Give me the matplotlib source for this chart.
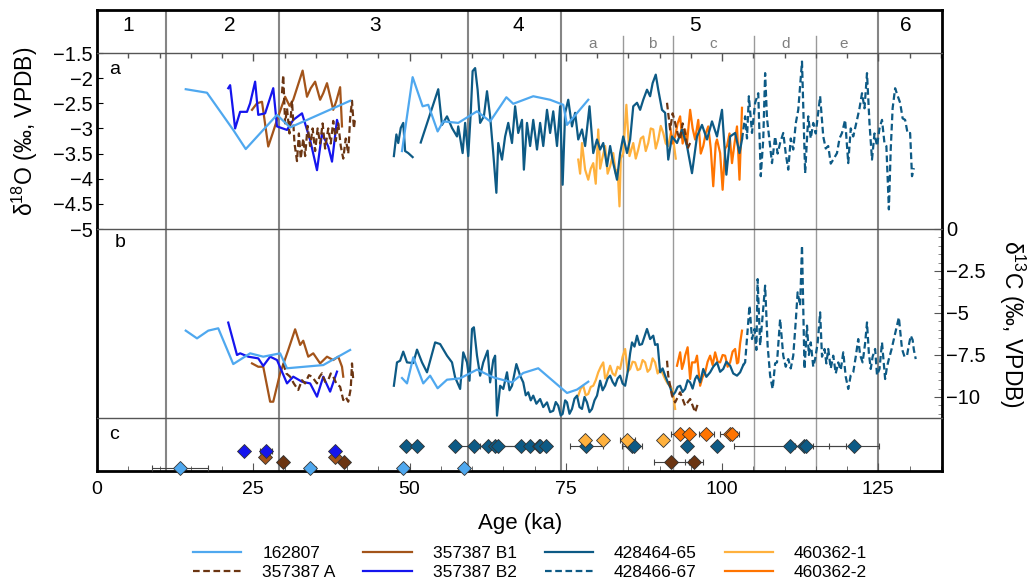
import numpy as np
import matplotlib.pyplot as plt
from matplotlib.lines import Line2D
from matplotlib.ticker import MultipleLocator

plt.rcParams['font.family'] = ['Liberation Sans', 'DejaVu Sans']
plt.rcParams['mathtext.fontset'] = 'custom'
plt.rcParams['mathtext.rm'] = 'Liberation Sans'
plt.rcParams['axes.unicode_minus'] = True

# ---- marine isotope stages ----
mis_bounds = [11.0, 29.1, 59.3, 74.3, 124.9]
sub_bounds = [84.2, 92.1, 105.1, 115.0]
mis_labels = ['1', '2', '3', '4', '5', '6']
mis_label_age = [5.0, 21.3, 44.5, 67.4, 95.7, 129.4]
sub_labels = ['a', 'b', 'c', 'd', 'e']
sub_label_age = [79.3, 88.8, 98.6, 110.1, 119.4]

# ---- series (age ka, value) ; None = break in record ----
# 162807
lb_o = [(14.2, -2.22), (17.6, -2.29), (21.8, -3.03), (23.8, -3.41), (28.8, -2.73), (30.9, -2.98),
        (40.5, -2.45), (44.0, None), (48.8, -3.45), (50.5, -1.98), (52.1, -2.56), (53.0, -2.53),
        (54.5, -3.06), (55.4, -2.86), (57.8, -2.89), (60.8, -2.66), (62.9, -2.86), (65.5, -2.38),
        (66.6, -2.51), (69.8, -2.36), (72.5, -2.43), (74.6, -2.53), (75.2, -2.93), (78.6, -2.43)]
lb_c = [(14.2, -6.05), (16.0, -6.51), (17.8, -6.05), (19.4, -5.91), (21.8, -8.04), (24.5, -7.40),
        (26.6, -7.60), (29.3, -7.40), (30.4, -8.29), (36.2, -8.10), (40.5, -7.20), (44.0, None),
        (48.8, -8.87), (49.6, -9.19), (50.6, -7.64), (52.2, -9.19), (53.3, -8.73), (54.5, -9.48),
        (56.0, -8.97), (58.1, -8.89), (60.8, -8.37), (63.4, -8.83), (66.4, -9.13), (68.2, -8.57),
        (70.6, -8.29), (75.2, -9.76), (76.8, -9.56), (78.6, -9.09)]

# 357387 A
a_o = [(29.6, -2.3), (29.8, -1.94), (30.1, -2.9), (30.4, -2.6), (30.8, -3.1), (31.2, -2.45), (31.6, -3.3),
       (32.0, -3.65), (32.3, -3.1), (32.6, -3.6), (33.0, -3.2), (33.3, -3.55), (33.7, -2.95),
       (34.1, -3.35), (34.5, -3.0), (34.9, -3.45), (35.3, -3.0), (35.7, -3.3), (36.1, -2.9),
       (36.5, -3.4), (37.0, -3.0), (37.4, -3.3), (37.8, -2.85), (38.2, -3.25), (38.6, -2.9),
       (39.0, -3.35), (39.4, -3.6), (39.8, -3.2), (40.2, -3.5), (40.5, -2.8), (40.8, -2.45),
       (41.1, -3.0), (41.3, -2.8), (60.0, None), (91.2, -2.49), (91.7, -3.02), (92.1, -2.7),
       (92.5, -2.89), (92.9, -3.1), (93.3, -3.22), (93.7, -2.9), (94.1, -3.09), (94.5, -3.4), (94.9, -3.29)]
a_c = [(29.8, -8.0), (30.3, -8.6), (30.9, -8.79), (31.5, -9.2), (32.2, -9.58), (32.8, -9.0),
       (33.3, -9.19), (33.9, -8.7), (34.4, -8.79), (35.2, -9.19), (35.6, -8.8), (36.0, -8.59),
       (36.5, -9.1), (37.0, -8.99), (37.4, -8.6), (37.8, -8.79), (38.3, -9.2), (38.9, -9.39),
       (39.4, -10.18), (39.8, -10.0), (40.2, -10.28), (40.6, -9.5), (40.8, -8.0), (41.0, -8.99),
       (60.0, None), (91.2, -7.84), (91.4, -8.73), (92.0, -9.92), (92.5, -10.32), (93.3, -9.72),
       (94.1, -10.52), (94.9, -10.12), (95.7, -10.91), (96.2, -10.32)]

# 357387 B1
b1_o = [(24.8, -2.63), (25.6, -2.5), (26.4, -2.47), (27.4, -3.36), (28.1, -3.1), (28.8, -2.83),
        (30.1, -2.37), (30.8, -2.55), (31.4, -2.43), (32.9, -1.85), (33.6, -2.37), (34.2, -2.2),
        (34.9, -2.07), (35.7, -2.43), (36.2, -2.3), (36.8, -2.10), (37.8, -2.63), (38.3, -2.45),
        (38.9, -2.18), (39.2, -2.96)]
b1_c = [(24.8, -8.00), (25.8, -8.20), (26.6, -8.20), (27.7, -10.28), (28.2, -10.28), (29.3, -8.59),
        (30.6, -7.20), (31.7, -5.97), (32.5, -6.90), (33.0, -6.65), (33.8, -7.60), (34.6, -7.40),
        (35.7, -8.00), (36.8, -7.60), (37.8, -7.80), (38.6, -7.60), (39.2, -8.20), (39.4, -8.79)]

# 357387 B2
b2_o = [(21.0, -2.20), (21.3, -2.14), (22.1, -3.00), (22.9, -2.67), (24.0, -2.67), (24.5, -2.50),
        (25.3, -2.07), (25.8, -2.73), (26.9, -2.70), (28.2, -2.20), (28.8, -2.96), (30.4, -3.03),
        (31.4, -2.83), (32.8, -2.70), (34.1, -3.23), (35.2, -3.83), (36.0, -3.10), (37.0, -3.36),
        (37.6, -3.66), (38.4, -2.83), (38.6, -2.93)]
b2_c = [(21.0, -5.57), (22.4, -7.50), (22.9, -7.40), (24.2, -7.60), (25.8, -7.70), (26.6, -8.15),
        (27.7, -7.60), (28.8, -7.80), (30.4, -9.19), (31.4, -8.79), (32.8, -9.09), (34.1, -9.19),
        (35.2, -9.98), (36.2, -8.79), (37.3, -9.68), (38.4, -8.49)]

# 428464-65
d1_o = [(47.5, -3.55), (47.9, -3.12), (48.2, -3.29), (48.6, -2.99), (49.0, -2.89), (49.3, -3.45),
        (49.8, -3.49), (50.5, -3.57), (51.0, None), (51.8, -3.28), (54.6, -2.22), (55.2, -2.93),
        (56.0, -2.76), (56.8, -2.99), (57.6, -3.16), (57.8, -2.96), (58.5, -3.49), (58.9, -2.89),
        (59.4, -3.55), (59.8, -2.69), (60.1, -1.86), (60.5, -1.80), (60.9, -2.23), (61.3, -2.89),
        (61.9, -2.76), (62.4, -2.26), (62.9, -2.76), (63.4, -3.49), (63.9, -4.28), (64.2, -3.29),
        (64.8, -3.62), (65.3, -3.16), (65.8, -2.89), (66.4, -3.29), (66.9, -2.56), (67.4, -3.09),
        (68.0, -2.83), (68.3, -3.82), (68.8, -2.89), (69.3, -3.35), (69.8, -2.83), (70.4, -3.42),
        (70.9, -2.89), (71.4, -3.35), (72.0, -2.63), (72.5, -3.09), (73.0, -2.66), (73.6, -3.35),
        (74.1, -2.56), (74.5, -4.12), (74.9, -2.69), (75.4, -2.43), (76.0, -2.96), (76.5, -2.69),
        (77.0, -3.22), (77.6, -3.02), (78.1, -3.35), (78.8, -2.56), (79.4, -3.49), (80.0, -3.22),
        (80.5, -3.42), (81.0, -3.29), (81.6, -3.75), (82.1, -3.35), (82.6, -3.69), (83.2, -4.02),
        (83.7, -3.49), (84.2, -3.16), (84.8, -3.49), (85.3, -3.22), (85.8, -2.56), (86.4, -2.49),
        (86.9, -2.63), (87.4, -2.43), (88.0, -2.23), (88.5, -2.36), (88.9, -2.10), (89.4, -1.93),
        (89.8, -2.23), (90.4, -2.63), (90.9, -2.69), (91.4, -3.62), (92.0, -3.16), (92.8, -3.29),
        (93.6, -3.02), (94.4, -3.35), (95.2, -3.89), (96.0, -3.16), (96.8, -2.93), (97.6, -3.22),
        (98.4, -2.86), (99.2, -3.16), (100.0, -2.63), (100.7, -3.92), (101.3, -3.16), (102.1, -3.09),
        (102.8, -3.49), (103.2, -3.22)]
d1_c = [(47.5, -9.33), (48.0, -7.94), (48.5, -7.84), (49.0, -7.30), (49.6, -7.94), (50.6, -7.98),
        (51.2, -7.18), (52.0, -7.94), (52.8, -8.53), (54.1, -6.75), (54.9, -6.85), (56.0, -7.54),
        (56.8, -7.94), (57.3, -8.83), (58.1, -9.52), (58.6, -7.34), (59.2, -7.94), (59.6, -9.03),
        (60.0, -5.95), (60.3, -5.85), (60.8, -7.54), (61.3, -8.73), (61.8, -7.94), (62.5, -7.24),
        (62.9, -9.13), (63.4, -7.8), (63.7, -7.54), (64.0, -11.11), (64.5, -9.33), (65.0, -9.52),
        (65.6, -8.53), (66.0, -9.6), (66.4, -9.33), (67.1, -8.04), (67.7, -8.73), (68.2, -9.13),
        (68.6, -9.9), (69.0, -9.72), (69.4, -10.2), (69.8, -9.92), (70.3, -10.4), (70.9, -10.12),
        (71.4, -10.6), (72.0, -10.32), (72.5, -10.9), (73.0, -10.82), (73.4, -10.3), (73.8, -10.52),
        (74.2, -11.1), (74.5, -11.01), (74.9, -10.2), (75.2, -10.32), (75.6, -11.0), (76.0, -10.71),
        (76.4, -10.1), (76.8, -9.92), (77.2, -10.6), (77.6, -10.71), (78.0, -10.0), (78.4, -10.32),
        (78.8, -10.9), (79.2, -10.71), (79.6, -10.2), (80.0, -9.92), (80.5, -9.03), (80.9, -9.6),
        (81.3, -9.33), (81.7, -8.9), (82.1, -8.73), (82.5, -9.1), (82.9, -9.33), (83.3, -8.9),
        (83.7, -8.73), (84.1, -9.2), (84.5, -9.33), (85.0, -8.33), (85.3, -7.4), (85.6, -6.75),
        (86.0, -7.0), (86.4, -6.35), (86.8, -6.9), (87.2, -6.85), (87.6, -6.4), (88.0, -5.95),
        (88.5, -6.55), (89.0, -6.35), (89.3, -6.9), (89.7, -6.85), (90.1, -8.53), (90.5, -8.3),
        (90.9, -8.73), (91.3, -9.1), (91.7, -9.42), (92.1, -9.9), (92.5, -9.72), (92.9, -9.4),
        (93.3, -9.33), (93.7, -9.7), (94.1, -9.52), (94.5, -9.0), (94.9, -9.13), (95.3, -9.5),
        (95.7, -8.93), (96.0, -8.73), (96.5, -9.13), (97.0, -8.33), (97.5, -8.8), (98.1, -8.53),
        (98.6, -8.2), (99.2, -7.94), (99.7, -8.5), (100.2, -8.33), (100.7, -7.9), (101.3, -8.14),
        (101.8, -8.6), (102.4, -8.73), (102.9, -8.53), (103.4, -8.1)]

# 428466-67
d2_o = [(103.2, -3.22), (103.7, -2.76), (104.0, -3.2), (104.3, -2.36), (104.8, -3.09), (105.3, -2.49),
        (105.8, -2.30), (106.2, -3.95), (106.6, -3.22), (106.9, -1.90), (107.2, -2.8), (107.4, -3.02),
        (108.0, -3.69), (108.5, -3.16), (108.9, -3.5), (109.3, -3.29), (109.8, -3.09), (110.2, -3.5),
        (110.6, -3.82), (111.0, -3.2), (111.4, -3.42), (111.8, -2.9), (112.2, -2.63), (112.8, -1.67),
        (113.3, -3.89), (113.8, -2.76), (114.2, -3.2), (114.6, -2.89), (115.0, -3.1), (115.7, -2.36),
        (116.2, -3.16), (116.6, -3.4), (117.0, -3.35), (117.4, -3.7), (117.8, -3.62), (118.4, -3.49),
        (118.8, -3.2), (119.2, -3.09), (119.7, -2.83), (120.2, -3.69), (120.6, -3.0), (121.0, -3.16),
        (121.6, -2.83), (122.0, -2.6), (122.4, -2.30), (122.8, -2.6), (123.2, -1.90), (123.6, -2.9),
        (124.0, -3.62), (124.4, -3.1), (124.8, -3.35), (125.2, -3.0), (125.6, -2.83), (126.0, -3.3),
        (126.3, -3.35), (126.7, -4.61), (127.0, -3.4), (127.3, -2.6), (127.7, -2.20), (128.1, -2.35),
        (128.5, -2.49), (128.9, -2.8), (129.3, -2.83), (129.7, -3.1), (130.1, -3.09), (130.4, -3.95),
        (130.7, -3.79)]
d2_c = [(103.4, -8.1), (103.7, -7.94), (104.0, -6.5), (104.4, -4.56), (104.8, -6.55), (105.2, -5.95),
        (105.5, -7.2), (105.7, -2.98), (106.1, -6.94), (106.5, -5.16), (106.9, -3.37), (107.3, -6.94),
        (107.7, -8.73), (108.1, -9.52), (108.5, -8.0), (108.8, -7.94), (109.3, -5.36), (109.8, -7.54),
        (110.2, -8.2), (110.6, -7.74), (111.0, -8.3), (111.4, -7.54), (111.8, -5.5), (112.1, -3.77),
        (112.5, -4.56), (112.8, -0.99), (113.2, -8.33), (113.6, -5.75), (113.9, -7.5), (114.2, -6.75),
        (114.6, -8.2), (114.9, -7.74), (115.3, -6.8), (115.7, -4.96), (116.0, -7.6), (116.4, -7.14),
        (116.7, -8.0), (117.0, -7.14), (117.4, -8.3), (117.8, -7.54), (118.2, -8.6), (118.6, -7.94),
        (119.0, -8.4), (119.4, -7.34), (119.8, -8.8), (120.2, -9.52), (120.6, -8.7), (121.0, -8.53),
        (121.4, -7.6), (121.8, -6.55), (122.1, -7.5), (122.5, -7.94), (122.9, -6.8), (123.2, -5.56),
        (123.5, -7.4), (123.8, -8.33), (124.1, -7.6), (124.5, -7.14), (124.8, -8.7), (125.2, -8.33),
        (125.6, -6.75), (126.1, -8.93), (126.4, -8.2), (126.7, -7.74), (127.1, -7.2), (127.5, -6.55),
        (127.9, -5.9), (128.3, -5.26), (128.6, -6.4), (128.8, -7.14), (129.2, -7.6), (129.6, -7.54),
        (129.9, -6.9), (130.2, -6.35), (130.5, -6.6), (130.7, -7.2), (131.0, -7.74)]

# 460362-1
y1_o = [(77.0, -3.62), (77.3, -3.9), (77.6, -3.29), (78.1, -3.82), (78.6, -4.02), (79.0, -3.8),
        (79.4, -3.69), (79.8, -4.1), (80.2, -3.02), (80.5, -3.8), (80.8, -3.62), (81.3, -3.35),
        (81.7, -3.9), (82.1, -3.75), (82.6, -3.49), (83.0, -3.9), (83.3, -3.82), (83.6, -4.55),
        (83.8, -3.6), (84.2, -3.49), (84.7, -2.53), (85.2, -3.55), (85.8, -3.29), (86.2, -3.6),
        (86.6, -3.42), (87.0, -3.2), (87.4, -3.16), (87.8, -3.45), (88.2, -3.29), (88.6, -3.0),
        (89.0, -3.02), (89.4, -3.4), (89.8, -3.22), (90.2, -2.95), (90.6, -3.09), (91.0, -3.3),
        (91.4, -3.35), (91.8, -3.1), (92.2, -3.22), (92.6, -3.6)]
y1_c = [(77.0, -9.92), (77.4, -9.5), (77.8, -9.33), (78.2, -9.9), (78.6, -9.82), (79.0, -9.4),
        (79.4, -9.33), (79.8, -9.0), (80.2, -8.53), (80.6, -8.2), (81.0, -7.94), (81.3, -8.9),
        (81.6, -8.73), (82.1, -8.14), (82.5, -8.6), (82.9, -8.73), (83.3, -8.2), (83.7, -8.33),
        (84.1, -7.6), (84.5, -7.14), (84.9, -8.5), (85.3, -8.33), (85.7, -7.9), (86.1, -7.94),
        (86.5, -8.4), (86.9, -8.33), (87.3, -7.8), (87.7, -7.94), (88.1, -8.5), (88.5, -8.33),
        (88.9, -7.7), (89.3, -7.94), (89.7, -8.6), (90.1, -8.33), (90.5, -8.6), (90.9, -8.93),
        (91.3, -9.2), (91.7, -9.33), (92.1, -9.6), (92.5, -10.71)]

# 460362-2
o2_o = [(91.7, -2.96), (92.1, -3.3), (92.5, -3.16), (92.9, -2.9), (93.3, -2.76), (93.7, -3.3),
        (94.1, -3.02), (94.4, -3.29), (94.9, -2.63), (95.3, -3.0), (95.7, -3.22), (96.2, -2.83),
        (96.6, -3.5), (97.0, -3.35), (97.4, -3.1), (97.8, -2.96), (98.2, -3.4), (98.6, -4.15),
        (99.0, -3.3), (99.2, -3.22), (99.7, -3.49), (100.1, -4.22), (100.5, -3.4), (100.8, -3.35),
        (101.2, -3.1), (101.6, -3.69), (102.0, -3.3), (102.4, -2.96), (102.8, -4.02), (103.2, -2.59)]
o2_c = [(92.8, -8.14), (93.3, -7.34), (93.6, -8.33), (93.9, -7.94), (94.1, -7.54), (94.5, -7.04),
        (94.9, -8.93), (95.2, -7.94), (95.7, -7.94), (96.0, -7.54), (96.5, -9.33), (96.9, -8.8),
        (97.3, -8.55), (97.7, -7.9), (98.1, -7.54), (98.5, -8.1), (98.9, -7.34), (99.3, -7.9),
        (99.7, -7.94), (100.1, -7.5), (100.5, -7.54), (100.9, -8.2), (101.3, -7.94), (101.7, -7.3),
        (102.1, -7.14), (102.4, -8.0), (102.6, -7.94), (102.9, -6.8), (103.2, -6.05)]

# ---- panel c: dated samples (age, 2 sigma) ----
c_lb_age = [13.3, 34.0, 49.0, 58.7]
c_lb_err = [4.5, 0.4, 0.4, 0.4]
c_a_age = [29.8, 39.5, 91.9, 95.5]
c_a_err = [0.3, 0.3, 2.8, 1.5]
c_b1_age = [26.8, 38.1]
c_b1_err = [0.3, 0.3]
c_b2_age = [23.5, 27.0, 38.1]
c_b2_err = [0.3, 1.0, 0.3]
c_d_age = [49.5, 51.2, 57.2, 60.3, 62.5, 63.6, 64.2, 67.8, 69.3, 70.7, 70.9, 71.8,
           78.3, 85.6, 85.9, 94.4, 99.2, 110.9, 113.1, 113.4, 121.1]
c_d_err = [0.3, 0.3, 0.3, 3.0, 0.4, 0.4, 3.0, 4.0, 0.4, 0.4, 1.4, 0.4,
           2.7, 1.6, 0.5, 0.4, 0.5, 9.0, 1.5, 0.4, 4.0]
c_y_age = [78.0, 81.0, 84.8, 90.6]
c_y_err = [0.6, 0.6, 1.2, 0.5]
c_o_age = [93.2, 94.7, 97.5, 101.2, 101.6]
c_o_err = [1.3, 0.5, 1.2, 1.5, 0.8]

names = ['162807', '357387 A', '357387 B1', '357387 B2',
         '428464-65', '428466-67', '460362-1', '460362-2']
colors = ['#4fa8ef', '#6b3512', '#a3541a', '#1515ee', '#0d5a85', '#0d5a85', '#ffb13d', '#ff7400']
dash = (0, (3.0, 1.6))
styles = ['-', dash, '-', '-', '-', dash, '-', '-']
o_series = [lb_o, a_o, b1_o, b2_o, d1_o, d2_o, y1_o, o2_o]
c_series = [lb_c, a_c, b1_c, b2_c, d1_c, d2_c, y1_c, o2_c]
zorders = [9, 8, 6, 7, 5, 5, 3, 4]

W, H = 1029, 584
fig = plt.figure(figsize=(W / 100, H / 100), dpi=100)


def box(top, bot):
    return [97 / W, 1 - bot / H, 845 / W, (bot - top) / H]


ax_s = fig.add_axes(box(10, 53))
ax_a = fig.add_axes(box(53, 229))
ax_b = fig.add_axes(box(229, 418))
ax_c = fig.add_axes(box(418, 471))
axes = [ax_s, ax_a, ax_b, ax_c]

for ax in axes:
    ax.set_xlim(0, 135.2)
    for side in ['left', 'right']:
        ax.spines[side].set_linewidth(2)
        ax.spines[side].set_color('black')
    ax.spines['top'].set_linewidth(1)
    ax.spines['top'].set_color('#555555')
    ax.spines['bottom'].set_visible(False)
ax_s.spines['top'].set_linewidth(2)
ax_s.spines['top'].set_color('black')
ax_c.spines['bottom'].set_visible(True)
ax_c.spines['bottom'].set_linewidth(2)
ax_c.spines['bottom'].set_color('black')

# stage boundaries
for ax in [ax_a, ax_b, ax_c]:
    for b in mis_bounds:
        ax.axvline(b, color='#858585', lw=1.5, zorder=1)
    for b in sub_bounds:
        ax.axvline(b, color='#9a9a9a', lw=1.0, zorder=1)
for b in mis_bounds:
    ax_s.axvline(b, color='#858585', lw=1.5)
for b in sub_bounds:
    ax_s.axvline(b, ymin=0, ymax=0.4, color='#9a9a9a', lw=1.0)
ax_s.set_ylim(0, 1)
for lab, x in zip(mis_labels, mis_label_age):
    ax_s.text(x, 0.63, lab, ha='center', va='center', fontsize=15)
for lab, x in zip(sub_labels, sub_label_age):
    ax_s.text(x, 0.21, lab, ha='center', va='center', fontsize=11, color='#7f7f7f')
ax_s.set_xticks([])
ax_s.set_yticks([])

# panel a: d18O
for ser, col, ls, z in zip(o_series, colors, styles, zorders):
    arr = np.array(ser, dtype=float)
    ax_a.plot(arr[:, 0], arr[:, 1], color=col, ls=ls, lw=1.6, zorder=z)
ax_a.set_ylim(-5, -1.5)
ax_a.set_yticks(np.arange(-5, -1.49, 0.5))
ax_a.set_yticklabels(['\u22125', '\u22124.5', '\u22124', '\u22123.5', '\u22123', '\u22122.5', '\u22122', '\u22121.5'])
ax_a.xaxis.set_ticks_position('top')
ax_a.xaxis.set_major_locator(MultipleLocator(25))
ax_a.xaxis.set_minor_locator(MultipleLocator(5))
ax_a.tick_params(axis='x', which='both', direction='in', labeltop=False, labelbottom=False,
                 color='#555555')
ax_a.tick_params(axis='x', which='major', length=6, width=1)
ax_a.tick_params(axis='x', which='minor', length=3.5, width=1)
ax_a.tick_params(axis='y', direction='in', length=4, labelsize=14.5, pad=3)
ax_a.text(2.0, -1.82, 'a', fontsize=14, ha='left', va='center')

# panel b: d13C
for ser, col, ls, z in zip(c_series, colors, styles, zorders):
    arr = np.array(ser, dtype=float)
    ax_b.plot(arr[:, 0], arr[:, 1], color=col, ls=ls, lw=1.6, zorder=z)
ax_b.set_ylim(-11.25, 0)
ax_b.yaxis.tick_right()
ax_b.set_yticks([0, -2.5, -5, -7.5, -10])
ax_b.set_yticklabels(['0', '\u22122.5', '\u22125', '\u22127.5', '\u221210'])
ax_b.yaxis.set_minor_locator(MultipleLocator(0.5))
ax_b.tick_params(axis='y', which='major', direction='in', length=6, labelsize=14.5, pad=3,
                 color='#555555')
ax_b.tick_params(axis='y', which='minor', direction='in', length=3, color='#777777')
ax_b.set_xticks([])
ax_b.text(2.9, -0.82, 'b', fontsize=14, ha='left', va='center')

# panel c: ages
ax_c.set_ylim(0, 1)
groups = [(c_lb_age, c_lb_err, 0.057, colors[0]),
          (c_a_age, c_a_err, 0.175, colors[1]),
          (c_b1_age, c_b1_err, 0.26, colors[2]),
          (c_b2_age, c_b2_err, 0.377, colors[3]),
          (c_d_age, c_d_err, 0.477, colors[4]),
          (c_y_age, c_y_err, 0.585, colors[6]),
          (c_o_age, c_o_err, 0.70, colors[7])]
for ages, errs, yy, col in groups:
    ax_c.errorbar(ages, [yy] * len(ages), xerr=errs, fmt='none', ecolor='#444444',
                  elinewidth=0.8, capsize=2.5, capthick=0.8, zorder=3)
    ax_c.plot(ages, [yy] * len(ages), ls='none', marker='D', ms=7, mfc=col,
              mec='#333333', mew=0.6, zorder=4, clip_on=False)
ax_c.set_yticks([])
ax_c.xaxis.set_major_locator(MultipleLocator(25))
ax_c.xaxis.set_minor_locator(MultipleLocator(5))
ax_c.tick_params(axis='x', which='major', direction='in', length=6, labelsize=14, pad=7,
                 color='#555555')
ax_c.tick_params(axis='x', which='minor', direction='in', length=3.5, color='#555555')
ax_c.text(1.9, 0.68, 'c', fontsize=14, ha='left', va='center')

# axis labels
fig.text(25 / W, 1 - 131 / H, r'$\mathregular{\delta^{18}}$O (‰, VPDB)', rotation=90,
         ha='center', va='center', fontsize=16.5)
fig.text(1012 / W, 1 - 324 / H, r'$\mathregular{\delta^{13}}$C (‰, VPDB)', rotation=270,
         ha='center', va='center', fontsize=16.5)
fig.text(520 / W, 1 - 523 / H, 'Age (ka)', ha='center', va='center', fontsize=16)

handles = [Line2D([], [], color=c, ls=s, lw=1.6) for c, s in zip(colors, styles)]
fig.legend(handles, names, ncol=4, loc='center', bbox_to_anchor=(530 / W, 1 - 563 / H),
           frameon=False, fontsize=12.5, handlelength=2.8, handletextpad=1.2,
           columnspacing=1.6, labelspacing=0.2)

fig.savefig('out.png', dpi=100)
